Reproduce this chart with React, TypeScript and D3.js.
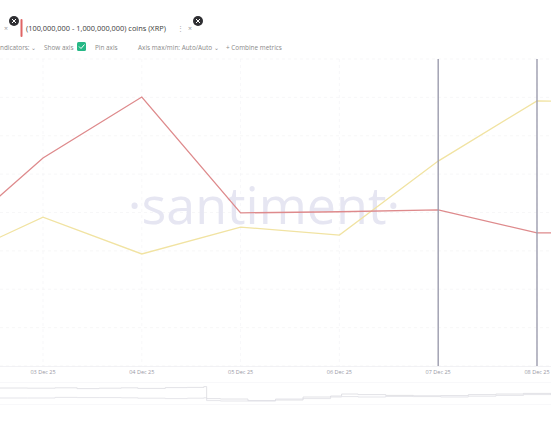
import React from "react";
import * as d3 from "d3";

const dates = ["2025-12-02", "2025-12-03", "2025-12-04", "2025-12-05", "2025-12-06", "2025-12-07", "2025-12-08", "2025-12-09"];
const redValues = [3.15, 5.42, 7.01, 3.99, 4.02, 4.07, 3.47, 3.47];
const yellowValues = [2.68, 3.88, 2.92, 3.62, 3.41, 5.34, 6.91, 6.86];
const tickDates = ["2025-12-03", "2025-12-04", "2025-12-05", "2025-12-06", "2025-12-07", "2025-12-08"];
const markerDates = ["2025-12-07", "2025-12-08"];
const gridValues = [0, 1, 2, 3, 4, 5, 6, 7, 8];

// navigator (overview) series, positions as fraction of width, values 0..1
const navX = [0, 0.05, 0.1, 0.14, 0.18, 0.22, 0.25, 0.3, 0.34, 0.37, 0.375, 0.4, 0.45, 0.5, 0.55, 0.6, 0.62, 0.65, 0.7, 0.75, 0.8, 0.85, 0.9, 0.95, 1];
const navUpper = [0.75, 0.74, 0.76, 0.72, 0.74, 0.76, 0.73, 0.77, 0.78, 0.82, 0.22, 0.2, 0.12, 0.15, 0.3, 0.35, 0.45, 0.42, 0.38, 0.36, 0.37, 0.42, 0.45, 0.48, 0.48];
const navLower = [0.25, 0.25, 0.28, 0.27, 0.27, 0.26, 0.24, 0.22, 0.24, 0.26, 0.12, 0.1, 0.1, 0.2, 0.22, 0.3, 0.32, 0.3, 0.33, 0.32, 0.3, 0.34, 0.38, 0.42, 0.44];

const W = 551;
const H = 431;
const parse = d3.timeParse("%Y-%m-%d");
const fmt = d3.timeFormat("%d %b %y");

export default function App() {
  const x = d3
    .scaleTime()
    .domain([parse("2025-12-03")!, parse("2025-12-08")!])
    .range([43, 537]);
  const y = d3.scaleLinear().domain([0, 8]).range([366, 59]);
  const line = d3
    .line<number>()
    .x((_, i) => x(parse(dates[i])!))
    .y((d) => y(d));

  const nx = d3.scaleLinear().domain([0, 1]).range([0, W]);
  const ny = d3.scaleLinear().domain([0, 1]).range([403, 383]);
  const navLine = d3
    .line<number>()
    .x((_, i) => nx(navX[i]))
    .y((d) => ny(d))
    .curve(d3.curveStepAfter);

  const font = "'Open Sans', 'Lato', sans-serif";

  return (
    <svg
      width={W}
      height={H}
      style={{ position: "absolute", left: 0, top: 0, background: "#fff" }}
      fontFamily={font}
    >
      <defs>
        <clipPath id="plot">
          <rect x={0} y={55} width={W} height={312} />
        </clipPath>
      </defs>

      {/* header row 1 */}
      <text x={4} y={31} fontSize={7} fill="#9a9a9a">×</text>
      <circle cx={14} cy={21} r={5} fill="#2f2f33" />
      <path d="M12,19 L16,23 M16,19 L12,23" stroke="#fff" strokeWidth={1} />
      <rect x={20.5} y={19} width={2} height={18} fill="#e06464" rx={1} />
      <text x={26} y={31} fontSize={7.4} fill="#3a3a3a">
        (100,000,000 - 1,000,000,000) coins (XRP)
      </text>
      <text x={177} y={31} fontSize={7} fill="#aaa">⋮</text>
      <text x={188} y={31} fontSize={7} fill="#999">×</text>
      <circle cx={198} cy={21} r={5} fill="#2f2f33" />
      <path d="M196,19 L200,23 M200,19 L196,23" stroke="#fff" strokeWidth={1} />

      {/* header row 2 */}
      <g fontSize={6.4} fill="#8a8a8a">
        <text x={0} y={50}>ndicators:  ⌄</text>
        <text x={44} y={50}>Show axis</text>
        <rect x={77} y={42} width={9} height={9} rx={1.5} fill="#26b886" />
        <path d="M79,46.5 L81,48.5 L84.5,44.5" stroke="#fff" strokeWidth={1} fill="none" />
        <text x={95} y={50}>Pin axis</text>
        <text x={138} y={50}>Axis max/min: Auto/Auto  ⌄</text>
        <text x={226} y={50}>+  Combine metrics</text>
      </g>

      {/* grid */}
      {gridValues.map((v) => (
        <line
          key={v}
          x1={0}
          x2={W}
          y1={y(v)}
          y2={y(v)}
          stroke="#f1f1f4"
          strokeWidth={0.6}
          strokeDasharray="3,3"
        />
      ))}
      {tickDates.map((d) => (
        <line
          key={d}
          x1={x(parse(d)!)}
          x2={x(parse(d)!)}
          y1={59}
          y2={366}
          stroke="#f2f2f5"
          strokeWidth={0.6}
          strokeDasharray="3,3"
        />
      ))}

      {/* watermark */}
      <text
        x={264}
        y={224}
        textAnchor="middle"
        fontSize={52}
        fill="#e6e6f2"
        fontFamily="'Open Sans', sans-serif"
      >
        ·santiment·
      </text>

      {/* series */}
      <g clipPath="url(#plot)">
        <path d={line(yellowValues)!} fill="none" stroke="#f1e3a2" strokeWidth={1.3} />
        <path d={line(redValues)!} fill="none" stroke="#de8a8c" strokeWidth={1.3} />
      </g>

      {/* markers */}
      {markerDates.map((d) => (
        <line
          key={d}
          x1={x(parse(d)!)}
          x2={x(parse(d)!)}
          y1={59}
          y2={366}
          stroke="#9c9cae"
          strokeWidth={1.4}
        />
      ))}

      {/* x axis */}
      <line x1={0} x2={W} y1={366.5} y2={366.5} stroke="#ececf0" strokeWidth={0.7} />
      {tickDates.map((d) => (
        <text
          key={d}
          x={x(parse(d)!)}
          y={374}
          textAnchor="middle"
          fontSize={5.5}
          fill="#9a9aa6"
        >
          {fmt(parse(d)!)}
        </text>
      ))}

      {/* navigator */}
      <line x1={0} x2={W} y1={382.5} y2={382.5} stroke="#f4f4f6" strokeWidth={0.6} />
      <line x1={0} x2={W} y1={404.5} y2={404.5} stroke="#f4f4f6" strokeWidth={0.6} />
      <path d={navLine(navUpper)!} fill="none" stroke="#dadae0" strokeWidth={0.8} />
      <path d={navLine(navLower)!} fill="none" stroke="#dedee4" strokeWidth={0.8} />
    </svg>
  );
}
